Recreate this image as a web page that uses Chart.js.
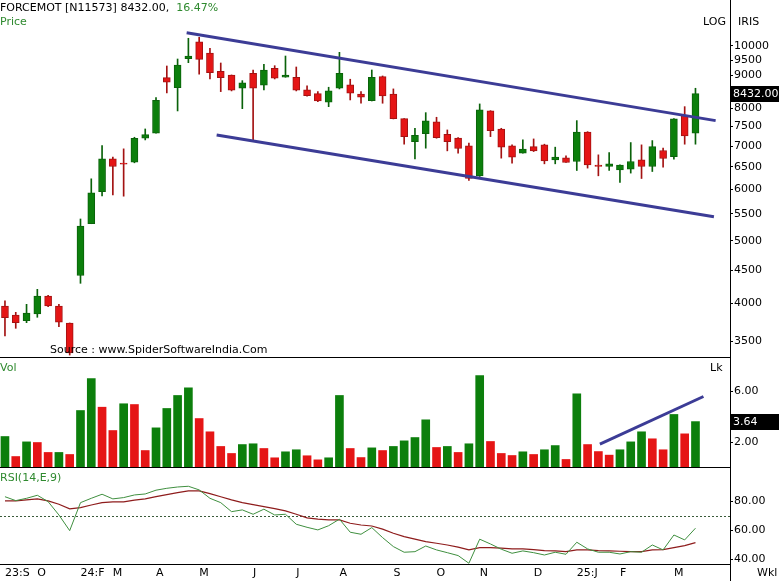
<!DOCTYPE html>
<html>
<head>
<meta charset="utf-8">
<script src="https://cdn.jsdelivr.net/npm/chart.js@4/dist/chart.umd.min.js"></script>
<style>
  body { margin: 0; background: #fff; width: 779px; height: 581px; overflow: hidden; position: relative; font-family: "DejaVu Sans", sans-serif; }
  canvas { position: absolute; left: 0; }
  .lbl { position: absolute; font-size: 11px; line-height: 12px; white-space: nowrap; color: #000; z-index: 2; }
  .grn { color: #2f8a2f; }
</style>
</head>
<body>
<canvas id="price" width="779" height="358" style="top:0"></canvas>
<canvas id="vol" width="779" height="110" style="top:358px"></canvas>
<canvas id="rsi" width="779" height="113" style="top:468px"></canvas>

<div class="lbl" style="left:0;top:2px">FORCEMOT [N11573] 8432.00, <span class="grn">&nbsp;16.47%</span></div>
<div class="lbl grn" style="left:0;top:16px">Price</div>
<div class="lbl" style="left:703px;top:16px">LOG</div>
<div class="lbl" style="left:738px;top:16px">IRIS</div>
<div class="lbl" style="left:50px;top:344px">Source : www.SpiderSoftwareIndia.Com</div>
<div class="lbl grn" style="left:0;top:362px">Vol</div>
<div class="lbl" style="left:710px;top:362px">Lk</div>
<div class="lbl grn" style="left:0;top:472px">RSI(14,E,9)</div>
<div class="lbl" style="left:757px;top:567px">Wkl</div>

<script>
// weekly candles, oldest first
const opens = [3964, 3839, 3762, 3853, 4107, 3964, 3732, 4418, 5311, 5954,
  6689, 6580, 6611, 7197, 7326, 8926, 8615, 9548, 10143, 9744,
  9131, 9012, 8596, 9066, 8689, 9228, 8939, 8939, 8545, 8432,
  8178, 8596, 8698, 8423, 8225, 8958, 8423, 7716, 7111, 7315,
  7626, 7300, 7200, 7004, 6297, 7930, 7438, 7004, 6825, 6987,
  7029, 6665, 6712, 6625, 7359, 6541, 6509, 6433, 6449, 6665,
  6509, 6889, 6743, 7810, 7326];
const highs = [4039, 3876, 3988, 4206, 4118, 3988, 3732, 5401, 6230, 7009,
  6729, 6930, 7222, 7438, 8313, 9304, 9538, 10267, 10303, 9908,
  9404, 9012, 8832, 9173, 9361, 9314, 9640, 9271, 8667, 8494,
  8627, 9768, 8876, 8494, 9173, 8980, 8576, 7716, 7456, 7882,
  7754, 7412, 7212, 7071, 8130, 7938, 7456, 7029, 7154, 7179,
  7046, 6972, 6760, 7662, 7367, 6784, 6840, 6548, 7087, 7029,
  7137, 6947, 7716, 8052, 8596];
const lows = [3563, 3662, 3736, 3808, 3954, 3682, 3330, 4297, 5311, 5863,
  5883, 5857, 6595, 7154, 7326, 8455, 7930, 9414, 9034, 8885,
  8494, 8515, 7995, 7154, 8545, 8885, 8939, 8515, 8355, 8196,
  8052, 8576, 8246, 8150, 8216, 8150, 7708, 7046, 6689, 6947,
  7197, 6881, 6825, 6193, 6282, 7238, 6705, 6588, 6825, 6864,
  6571, 6571, 6602, 6417, 6472, 6297, 6417, 6149, 6358, 6237,
  6394, 6495, 6682, 7046, 7046];
const closes = [3802, 3736, 3866, 4107, 3964, 3741, 3354, 5268, 5926, 6689,
  6509, 6564, 7197, 7289, 8237, 8782, 9337, 9640, 9528, 9086,
  8926, 8536, 8760, 8596, 9173, 8907, 9012, 8536, 8372, 8216,
  8515, 9066, 8446, 8325, 8939, 8364, 7716, 7238, 7274, 7653,
  7212, 7111, 6938, 6237, 7958, 7393, 6972, 6729, 6923, 6881,
  6641, 6729, 6602, 7359, 6548, 6509, 6571, 6541, 6625, 6509,
  6987, 6696, 7708, 7256, 8432];

// volume in lakh, and whether the bar is an up bar
const volumes = [2.47, 0.90, 2.05, 2.00, 1.22, 1.22, 1.06, 4.51, 7.02, 4.77,
  2.94, 5.04, 4.98, 1.37, 3.15, 4.67, 5.69, 6.29, 3.88, 2.84,
  1.69, 1.14, 1.84, 1.90, 1.53, 0.80, 1.27, 1.43, 0.96, 0.64,
  0.80, 5.69, 1.53, 0.82, 1.58, 1.37, 1.69, 2.13, 2.39, 3.78,
  1.61, 1.69, 1.22, 1.90, 7.26, 2.08, 1.14, 0.98, 1.27, 1.06,
  1.43, 1.76, 0.67, 5.82, 1.84, 1.29, 1.01, 1.43, 2.05, 2.84,
  2.29, 1.43, 4.20, 2.68, 3.64];
const volUp = [1, 0, 1, 0, 0, 1, 0, 1, 1, 0,
  0, 1, 0, 0, 1, 1, 1, 1, 0, 0,
  0, 0, 1, 1, 0, 0, 1, 1, 0, 0,
  1, 1, 0, 0, 1, 0, 1, 1, 1, 1,
  0, 1, 0, 1, 1, 0, 0, 0, 1, 0,
  1, 1, 0, 1, 0, 0, 0, 1, 1, 1,
  0, 0, 1, 0, 1];

const rsiValues = [83.4, 80.7, 82.3, 84.4, 80.0, 70.8, 60.0, 79.3, 82.3, 85.1,
  81.9, 82.8, 84.6, 85.3, 87.9, 89.2, 90.1, 90.6, 88.1, 82.3,
  79.3, 73.1, 74.3, 71.3, 74.8, 70.8, 71.3, 64.4, 62.3, 60.5,
  63.4, 67.9, 58.9, 57.5, 62.1, 55.2, 49.0, 45.1, 45.5, 49.4,
  46.7, 44.8, 42.8, 37.5, 54.1, 50.8, 47.2, 44.4, 46.0, 44.8,
  43.2, 45.1, 43.7, 52.0, 47.4, 45.1, 45.1, 43.9, 45.5, 45.1,
  50.1, 46.7, 57.0, 53.6, 61.7];
const rsiSignal = [80.5, 80.5, 81.2, 81.9, 80.5, 78.2, 75.0, 75.9, 77.7, 79.3,
  79.8, 79.8, 81.0, 81.9, 83.4, 84.8, 86.2, 87.4, 87.4, 85.5,
  83.4, 81.2, 79.3, 77.9, 76.6, 75.2, 73.6, 71.3, 68.8, 67.9,
  67.4, 67.4, 65.1, 63.9, 63.2, 61.0, 58.2, 55.9, 54.1, 52.4,
  51.3, 50.1, 48.6, 46.7, 48.3, 48.3, 47.9, 47.4, 47.4, 46.9,
  46.2, 46.0, 45.5, 46.7, 46.7, 46.2, 46.0, 45.8, 45.5, 45.5,
  46.7, 46.9, 48.3, 49.7, 51.7];
const rsiLevel = 70;

// drawn trend lines: [week index, value]
const upperChannel = [[16.84, 10473], [65.87, 7662]];
const lowerChannel = [[19.62, 7280], [65.71, 5445]];
const volTrend = [[55.14, 1.87], [64.74, 5.61]];

const priceTicks = [3500, 4000, 4500, 5000, 5500, 6000, 6500, 7000, 7500, 8000, 8500, 9000, 9500, 10000];
const volTicks = [2, 6];
const rsiTicks = [40, 60, 80];
const monthTickIdx = [0, 3, 7, 10, 14, 18, 23, 27, 31, 36, 40, 44, 49, 53, 57, 62];
const monthTickLabels = ['23:S', 'O', '24:F', 'M', 'A', 'M', 'J', 'J', 'A', 'S', 'O', 'N', 'D', '25:J', 'F', 'M'];
const lastClose = 8432.00;
const lastVolume = 3.64;

const GREEN = '#0c7f0c', RED = '#e51515', GREEN_WICK = '#0a620a', RED_WICK = '#a31212';
const LINE_BLUE = '#3c3c96';
const X_MIN = -0.46, X_MAX = 67.2;

Chart.defaults.font.family = '"DejaVu Sans", sans-serif';
Chart.defaults.font.size = 11;
Chart.defaults.color = '#000';
Chart.defaults.animation = false;

const idx = closes.map((_, i) => i);
const isUp = closes.map((c, i) => c >= opens[i]);
const toPts = arr => arr.map(([x, y]) => ({ x, y }));

function rightAxis(min, max, ticks, fmt) {
  return {
    type: 'linear', position: 'right', min, max,
    afterBuildTicks: s => { s.ticks = ticks.map(v => ({ value: v })); },
    afterFit: s => { s.width = 49; s.paddingTop = 0; s.paddingBottom = 0; },
    border: { display: true, color: '#000', width: 1 },
    grid: { display: true, drawOnChartArea: false, drawTicks: true, tickLength: 3, color: '#000' },
    ticks: { padding: 1, autoSkip: false, color: '#000', callback: fmt }
  };
}
const hiddenX = { type: 'linear', min: X_MIN, max: X_MAX, display: false, offset: false };

// bottom separator line and the right axis line below the chart area
const frame = {
  id: 'frame',
  afterDraw(chart) {
    const { ctx, chartArea: a } = chart;
    ctx.save();
    ctx.strokeStyle = '#000';
    ctx.lineWidth = 1;
    ctx.beginPath();
    ctx.moveTo(0, Math.round(a.bottom) - 0.5);
    ctx.lineTo(a.right, Math.round(a.bottom) - 0.5);
    ctx.moveTo(Math.round(a.right) + 0.5, a.bottom);
    ctx.lineTo(Math.round(a.right) + 0.5, chart.height);
    ctx.stroke();
    ctx.restore();
  }
};

// black value box on the right axis
function valueBox(value, text) {
  return {
    id: 'valueBox',
    afterDraw(chart) {
      const { ctx, chartArea: a } = chart;
      const y = chart.scales.y.getPixelForValue(value);
      ctx.save();
      ctx.fillStyle = '#000';
      ctx.fillRect(a.right + 1, Math.round(y) - 8, chart.width - a.right - 1, 16);
      ctx.fillStyle = '#fff';
      ctx.font = '11px "DejaVu Sans", sans-serif';
      ctx.textBaseline = 'middle';
      ctx.fillText(text, a.right + 3, Math.round(y));
      ctx.restore();
    }
  };
}

// dotted RSI level
const levelLine = {
  id: 'levelLine',
  beforeDatasetsDraw(chart) {
    const { ctx, chartArea: a } = chart;
    const y = Math.round(chart.scales.y.getPixelForValue(rsiLevel)) + 0.5;
    ctx.save();
    ctx.strokeStyle = '#3a5a3a';
    ctx.lineWidth = 1;
    ctx.setLineDash([2, 2]);
    ctx.beginPath();
    ctx.moveTo(a.left, y);
    ctx.lineTo(a.right, y);
    ctx.stroke();
    ctx.restore();
  }
};

new Chart(document.getElementById('price'), {
  type: 'bar',
  data: {
    datasets: [
      { type: 'line', data: toPts(upperChannel), borderColor: LINE_BLUE, borderWidth: 3, pointRadius: 0, order: 0 },
      { type: 'line', data: toPts(lowerChannel), borderColor: LINE_BLUE, borderWidth: 3, pointRadius: 0, order: 0 },
      {
        data: idx.map(i => ({ x: i, y: [Math.min(opens[i], closes[i]), Math.max(opens[i], closes[i])] })),
        backgroundColor: idx.map(i => isUp[i] ? GREEN : RED),
        borderColor: idx.map(i => isUp[i] ? GREEN_WICK : RED_WICK),
        borderWidth: 1, borderSkipped: false,
        barThickness: 7, minBarLength: 1, grouped: false, order: 1
      },
      {
        data: idx.map(i => ({ x: i, y: [lows[i], highs[i]] })),
        backgroundColor: idx.map(i => isUp[i] ? GREEN_WICK : RED_WICK),
        barThickness: 1, grouped: false, order: 2
      }
    ]
  },
  options: {
    responsive: false,
    layout: { padding: 0 },
    plugins: { legend: { display: false }, tooltip: { enabled: false } },
    scales: {
      x: hiddenX,
      y: Object.assign(rightAxis(3295, 11764, priceTicks, v => String(v)), { type: 'logarithmic' })
    }
  },
  plugins: [frame, valueBox(lastClose, lastClose.toFixed(2))]
});

new Chart(document.getElementById('vol'), {
  type: 'bar',
  data: {
    datasets: [
      { type: 'line', data: toPts(volTrend), borderColor: LINE_BLUE, borderWidth: 3, pointRadius: 0, order: 0 },
      {
        data: idx.map(i => ({ x: i, y: volumes[i] })),
        backgroundColor: idx.map(i => volUp[i] ? GREEN : RED),
        barThickness: 8, grouped: false, order: 1
      }
    ]
  },
  options: {
    responsive: false,
    layout: { padding: 0 },
    plugins: { legend: { display: false }, tooltip: { enabled: false } },
    scales: {
      x: hiddenX,
      y: rightAxis(0, 8.63, volTicks, v => v.toFixed(2))
    }
  },
  plugins: [frame, valueBox(lastVolume, lastVolume.toFixed(2))]
});

new Chart(document.getElementById('rsi'), {
  type: 'line',
  data: {
    datasets: [
      { data: idx.map(i => ({ x: i, y: rsiValues[i] })), borderColor: '#3f8f3f', borderWidth: 1, pointRadius: 0, tension: 0 },
      { data: idx.map(i => ({ x: i, y: rsiSignal[i] })), borderColor: '#8e1c1c', borderWidth: 1.2, pointRadius: 0, tension: 0 }
    ]
  },
  options: {
    responsive: false,
    layout: { padding: 0 },
    plugins: { legend: { display: false }, tooltip: { enabled: false } },
    scales: {
      x: {
        type: 'linear', min: X_MIN, max: X_MAX, offset: false,
        afterBuildTicks: s => { s.ticks = monthTickIdx.map(v => ({ value: v })); },
        afterFit: s => { s.height = 16; s.paddingLeft = 0; s.paddingRight = 0; },
        border: { display: false },
        grid: { display: false, drawTicks: false },
        ticks: { align: 'start', padding: 2, autoSkip: false, maxRotation: 0, color: '#000',
          callback: (v, i) => monthTickLabels[i] }
      },
      y: rightAxis(36.3, 103.2, rsiTicks, v => v.toFixed(2))
    }
  },
  plugins: [frame, levelLine]
});
</script>
</body>
</html>
